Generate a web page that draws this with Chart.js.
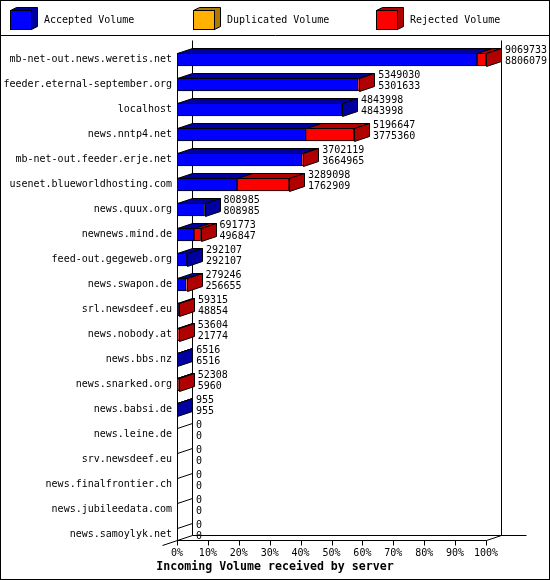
<!DOCTYPE html>
<html>
<head>
<meta charset="utf-8">
<script src="https://cdn.jsdelivr.net/npm/chart.js@4/dist/chart.umd.min.js"></script>
<style>
html,body{margin:0;padding:0;background:#fff}
#wrap{width:550px;height:580px}
</style>
</head>
<body>
<div id="wrap"><canvas id="c"></canvas></div>
<script>
// Incoming volume per server — 3D stacked horizontal bars (innreport style).
const servers = [
  "mb-net-out.news.weretis.net","feeder.eternal-september.org","localhost","news.nntp4.net",
  "mb-net-out.feeder.erje.net","usenet.blueworldhosting.com","news.quux.org","newnews.mind.de",
  "feed-out.gegeweb.org","news.swapon.de","srl.newsdeef.eu","news.nobody.at","news.bbs.nz",
  "news.snarked.org","news.babsi.de","news.leine.de","srv.newsdeef.eu","news.finalfrontier.ch",
  "news.jubileedata.com","news.samoylyk.net"
];
const totalVolume = [9069733,5349030,4843998,5196647,3702119,3289098,808985,691773,292107,279246,
  59315,53604,6516,52308,955,0,0,0,0,0];
const acceptedVolume = [8806079,5301633,4843998,3775360,3664965,1762909,808985,496847,292107,256655,
  48854,21774,6516,5960,955,0,0,0,0,0];
const duplicatedVolume = [0,0,0,0,0,0,0,0,0,0,0,0,0,0,0,0,0,0,0,0];
const rejectedVolume = totalVolume.map((t,i) => t - acceptedVolume[i] - duplicatedVolume[i]);
const tickPercents = [0,10,20,30,40,50,60,70,80,90,100];
const tickLabels = ["0%","10%","20%","30%","40%","50%","60%","70%","80%","90%","100%"];
const seriesNames = ["Accepted Volume","Duplicated Volume","Rejected Volume"];
const axisTitle = "Incoming Volume received by server";

const MAX = Math.max(...totalVolume);
const FONT = '"DejaVu Sans Mono", monospace';
const FRONT = ["#0000ff","#ffb000","#ff0000"], SIDE = ["#0000a0","#b07800","#b00000"];
const DX = 15, DY = 5;
const px = v => Math.round(v) + 0.5;

function poly(ctx, pts, fill){
  ctx.beginPath();
  pts.forEach(([x,y],k) => k ? ctx.lineTo(px(x),px(y)) : ctx.moveTo(px(x),px(y)));
  ctx.closePath();
  if(fill){ ctx.fillStyle = fill; ctx.fill(); }
  ctx.stroke();
}
function line(ctx, pts){
  ctx.beginPath();
  pts.forEach(([x,y],k) => k ? ctx.lineTo(px(x),px(y)) : ctx.moveTo(px(x),px(y)));
  ctx.stroke();
}

const frame3d = {
  id:"frame3d",
  beforeDatasetsDraw(chart){
    const {ctx, chartArea:a, scales:{x}} = chart;
    const front = a.bottom - 7, back = front - DY, wallTop = a.top - 7;
    const el0 = chart.getDatasetMeta(0).data[0];
    ctx.save();
    ctx.strokeStyle = "#000"; ctx.lineWidth = 1;
    line(ctx, [[a.left+DX, wallTop],[a.left+DX, back]]);
    line(ctx, [[a.right+DX, wallTop],[a.right+DX, back]]);
    line(ctx, [[a.left+DX, back],[a.right+DX+25, back]]);
    line(ctx, [[a.left, front],[a.right, front],[a.right+DX, back]]);
    line(ctx, [[a.left, el0.y - el0.height/2],[a.left, front]]);
    line(ctx, [[a.left-DX, front+DY],[a.left+DX, back]]);
    x.ticks.forEach(t => {
      const p = x.getPixelForValue(t.value);
      line(ctx, [[p, front],[p, front+5]]);
    });
    ctx.restore();
  },
  afterDatasetsDraw(chart){
    const {ctx, scales:{x}} = chart;
    const metas = chart.data.datasets.map((d,i) => chart.getDatasetMeta(i));
    ctx.save();
    ctx.strokeStyle = "#000"; ctx.lineWidth = 1;
    ctx.font = "10px " + FONT;
    ctx.textAlign = "left"; ctx.textBaseline = "middle";
    servers.forEach((s,j) => {
      const el0 = metas[0].data[j];
      const top = el0.y - el0.height/2, bot = el0.y + el0.height/2;
      const x0 = x.getPixelForValue(0);
      let last = -1;
      metas.forEach((m,i) => {
        const v = chart.data.datasets[i].data[j];
        if(!v) return;
        last = i;
        const el = m.data[j];
        poly(ctx, [[el.base,top],[el.x,top],[el.x+DX,top-DY],[el.base+DX,top-DY]], SIDE[i]);
      });
      if(last < 0){
        line(ctx, [[x0,top],[x0+DX,top-DY]]);
      } else {
        const e = metas[last].data[j].x;
        poly(ctx, [[e,top],[e+DX,top-DY],[e+DX,bot-DY],[e,bot]], SIDE[last]);
      }
      const lx = x.getPixelForValue(totalVolume[j]) + DX + 4;
      ctx.fillStyle = "#000";
      ctx.fillText(String(totalVolume[j]), lx, el0.y - 9);
      ctx.fillText(String(acceptedVolume[j]), lx, el0.y + 2);
    });
    ctx.restore();
  },
  afterDraw(chart){
    const {ctx, width, height} = chart;
    ctx.save();
    ctx.strokeStyle = "#000"; ctx.lineWidth = 1;
    ctx.strokeRect(0.5, 0.5, width-1, height-1);
    line(ctx, [[0,35],[width,35]]);
    const lx = [10,193,376];
    ctx.font = "10px " + FONT; ctx.textBaseline = "middle"; ctx.textAlign = "left";
    chart.data.datasets.forEach((d,i) => {
      const bx = lx[i];
      poly(ctx, [[bx,10],[bx+6,7],[bx+27,7],[bx+27,26],[bx+21,29],[bx,29]], SIDE[i]);
      ctx.fillStyle = FRONT[i];
      ctx.fillRect(bx+0.5, 10.5, 21, 19);
      ctx.strokeRect(bx+0.5, 10.5, 21, 19);
      ctx.fillStyle = "#000";
      ctx.fillText(d.label, bx+34, 20);
    });
    ctx.font = "bold 11.6px " + FONT; ctx.textAlign = "center";
    ctx.fillText(axisTitle, width/2, 567);
    ctx.restore();
  }
};

const volumes = [acceptedVolume, duplicatedVolume, rejectedVolume];
new Chart(document.getElementById("c"), {
  type:"bar",
  data:{
    labels: servers,
    datasets: seriesNames.map((n,i) => ({
      label:n, data:volumes[i], backgroundColor:FRONT[i], borderColor:"#000",
      borderWidth:1, borderSkipped:false, barThickness:13
    }))
  },
  options:{
    indexAxis:"y", responsive:true, maintainAspectRatio:false, animation:false,
    layout:{padding:{left:1, right:64, top:47, bottom:0}},
    plugins:{legend:{display:false}, tooltip:{enabled:false}},
    scales:{
      x:{
        stacked:true, min:0, max:MAX,
        grid:{display:false, drawTicks:false}, border:{display:false},
        afterBuildTicks:s => { s.ticks = tickPercents.map(p => ({value: MAX*p/100})); },
        afterFit:s => { s.height = 33; },
        ticks:{callback:(v,i) => tickLabels[i], color:"#000", padding:0, maxRotation:0, autoSkip:false,
               font:{family:FONT, size:10}}
      },
      y:{
        stacked:true,
        grid:{display:false, drawTicks:false}, border:{display:false},
        afterFit:s => { s.width = 176; },
        ticks:{color:"#000", padding:5, autoSkip:false, font:{family:FONT, size:10}}
      }
    }
  },
  plugins:[frame3d]
});
</script>
</body>
</html>
